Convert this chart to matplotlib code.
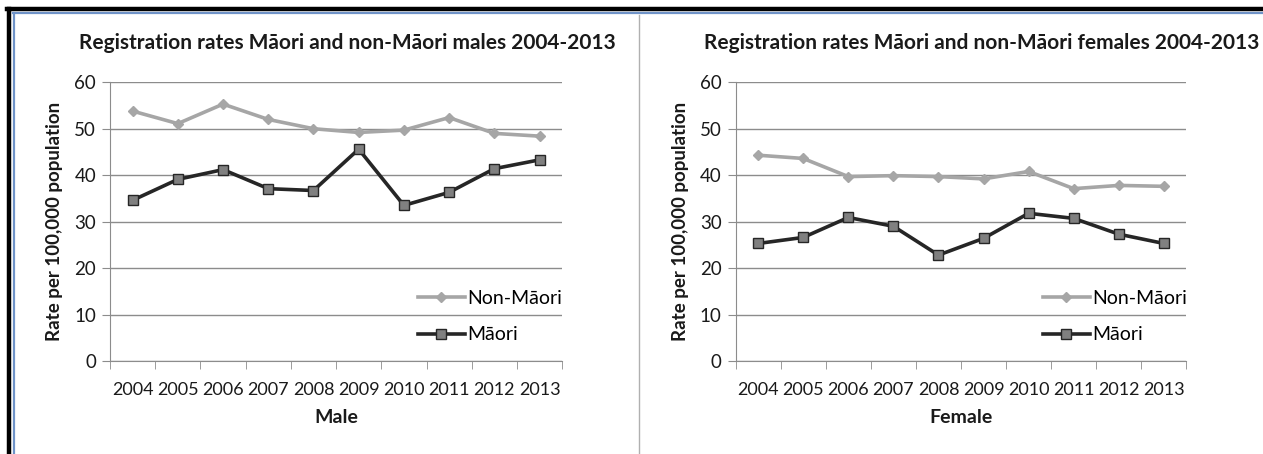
import matplotlib
matplotlib.use("Agg")
import matplotlib.pyplot as plt
from matplotlib.lines import Line2D

plt.rcParams['font.family'] = ['Lato', 'DejaVu Sans']

years = ['2004', '2005', '2006', '2007', '2008', '2009', '2010', '2011', '2012', '2013']

male_non_maori = [53.8, 51.1, 55.3, 52.0, 50.0, 49.2, 49.7, 52.4, 49.0, 48.4]
male_maori = [34.6, 39.1, 41.2, 37.1, 36.7, 45.6, 33.5, 36.3, 41.4, 43.3]

female_non_maori = [44.3, 43.6, 39.7, 39.9, 39.7, 39.2, 40.8, 37.1, 37.8, 37.6]
female_maori = [25.3, 26.6, 30.9, 29.0, 22.8, 26.4, 31.8, 30.7, 27.3, 25.3]

# title, x label, series, axes rect, title x (axes fraction)
panels = [
    ("Registration rates Māori and non-Māori males 2004-2013", "Male",
     male_non_maori, male_maori, [0.0871, 0.2048, 0.358, 0.614], 0.524),
    ("Registration rates Māori and non-Māori females 2004-2013", "Female",
     female_non_maori, female_maori, [0.5824, 0.2048, 0.357, 0.614], 0.545),
]

GRID = '#8c8c8c'
LIGHT = '#a6a6a6'
DARK = '#262626'
TEXT = '#1a1a1a'

fig = plt.figure(figsize=(12.63, 4.54), dpi=100)

for title, xlabel, non_maori, maori, rect, tx in panels:
    ax = fig.add_axes(rect)
    x = range(len(years))
    ax.plot(x, non_maori, color=LIGHT, lw=2.6, marker='D', ms=5.5,
            mfc=LIGHT, mec=LIGHT, label='Non-Māori')
    ax.plot(x, maori, color=DARK, lw=2.6, marker='s', ms=7.5,
            mfc='#808080', mec=DARK, mew=1.0, label='Māori')

    ax.set_xlim(-0.5, 9.5)
    ax.set_ylim(0, 60)
    ax.set_yticks(range(0, 61, 10))
    ax.yaxis.grid(True, color=GRID, lw=1)
    ax.set_axisbelow(True)
    for s in ['top', 'right']:
        ax.spines[s].set_visible(False)
    for s in ['left', 'bottom']:
        ax.spines[s].set_color(GRID)
    ax.set_xticks(range(len(years)))
    ax.set_xticklabels(years, fontsize=13, color=TEXT)
    ax.set_xticks([i - 0.5 for i in range(len(years) + 1)], minor=True)
    ax.tick_params(axis='x', which='major', length=0, pad=15)
    ax.tick_params(axis='x', which='minor', length=6, color=GRID)
    ax.tick_params(axis='y', length=6, color=GRID, labelsize=13.5, labelcolor=TEXT, pad=4)

    ax.text(tx, 1.14, title, transform=ax.transAxes, ha='center', va='center',
            fontsize=15, fontweight='bold', color=TEXT)
    ax.set_xlabel(xlabel, fontsize=14, fontweight='bold', labelpad=8, color=TEXT)
    ax.set_ylabel('Rate per 100,000 population', fontsize=13.5, fontweight='bold',
                  color=TEXT)
    ax.yaxis.set_label_coords(-0.104, 0.5)

    ax.legend(loc='upper left', bbox_to_anchor=(0.66, 0.29), frameon=False,
              fontsize=14, handlelength=2.4, handletextpad=0.15, labelspacing=1.0,
              borderpad=0)

# frame around the figure and divider between the two charts
fig.add_artist(Line2D([0.0071, 0.0071], [0, 0.981], transform=fig.transFigure,
                      color='black', lw=3.2))
fig.add_artist(Line2D([0.0055, 1.0], [0.9795, 0.9795], transform=fig.transFigure,
                      color='black', lw=3.2))
fig.add_artist(Line2D([0.0107, 0.0107], [0, 0.972], transform=fig.transFigure,
                      color='#6f93c8', lw=1.6))
fig.add_artist(Line2D([0.0099, 1.0], [0.9715, 0.9715], transform=fig.transFigure,
                      color='#6f93c8', lw=1.6))
fig.add_artist(Line2D([0.5063, 0.5063], [0, 0.966], transform=fig.transFigure,
                      color='#b0b0b0', lw=1))

fig.savefig('out.png', dpi=100)
